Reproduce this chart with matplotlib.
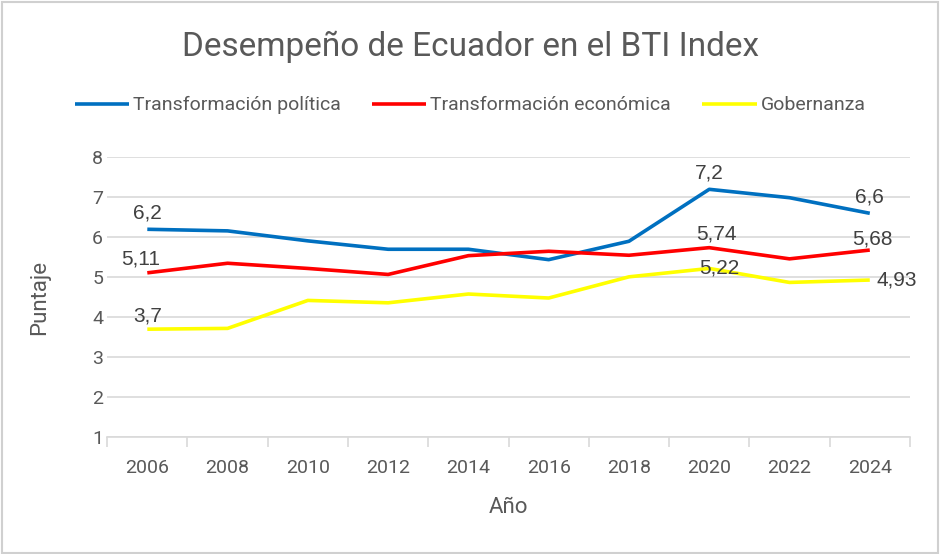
import matplotlib
matplotlib.use("Agg")
import matplotlib.pyplot as plt
from matplotlib.patches import Rectangle
from matplotlib import font_manager

years = ["2006", "2008", "2010", "2012", "2014", "2016", "2018", "2020", "2022", "2024"]
politica = [6.2, 6.16, 5.91, 5.7, 5.7, 5.44, 5.9, 7.2, 6.99, 6.6]
economica = [5.11, 5.35, 5.22, 5.07, 5.54, 5.65, 5.55, 5.74, 5.46, 5.68]
gobernanza = [3.7, 3.72, 4.42, 4.36, 4.58, 4.48, 5.01, 5.22, 4.87, 4.93]
series_names = ["Transformación política", "Transformación económica", "Gobernanza"]
label_text = {
    0: {0: "6,2", 7: "7,2", 9: "6,6"},
    1: {0: "5,11", 7: "5,74", 9: "5,68"},
    2: {0: "3,7", 7: "5,22", 9: "4,93"},
}

avail = {f.name for f in font_manager.fontManager.ttflist}
narrow = "Liberation Sans Narrow" if "Liberation Sans Narrow" in avail else "Roboto"
plt.rcParams['font.family'] = [narrow, 'DejaVu Sans']

TXT = "#595959"
colors = ["#0070C0", "#FF0000", "#FFFF00"]

fig = plt.figure(figsize=(9.4, 5.54), dpi=100)
fig.patches.append(Rectangle((0.002, 0.002), 0.996, 0.994, transform=fig.transFigure,
                             fill=False, edgecolor="#D0D0D0", linewidth=1.5))
ax = fig.add_axes([0.114, 0.211, 0.854, 0.505])

x = list(range(len(years)))
data = [politica, economica, gobernanza]
lines = []
for i, (vals, c, n) in enumerate(zip(data, colors, series_names)):
    l, = ax.plot(x, vals, color=c, linewidth=2.6, label=n, solid_capstyle="butt", zorder=3)
    lines.append(l)

offsets = {
    (0, 0): (0, 5, "center", "bottom"),
    (0, 7): (0, 5, "center", "bottom"),
    (0, 9): (0, 5, "center", "bottom"),
    (1, 0): (-5, 3, "center", "bottom"),
    (1, 7): (5, 3, "center", "bottom"),
    (1, 9): (2, 1, "center", "bottom"),
    (2, 0): (0, 3, "center", "bottom"),
    (2, 7): (7, 0, "center", "center"),
    (2, 9): (5, 0, "left", "center"),
}
for si, labs in label_text.items():
    for xi, t in labs.items():
        dx, dy, ha, va = offsets[(si, xi)]
        ax.annotate(t, (x[xi], data[si][xi]), xytext=(dx, dy), textcoords="offset points",
                    ha=ha, va=va, fontsize=15, color="#404040",
                    family=["Liberation Sans", "DejaVu Sans"], zorder=4)

ax.set_ylim(1, 8)
ax.set_xlim(-0.5, len(years) - 0.5)
ax.set_yticks(range(1, 9))
ax.set_xticks(x)
ax.set_xticklabels(years)
ax.set_xticks([i - 0.5 for i in range(len(years) + 1)], minor=True)
ax.grid(axis="y", color="#D9D9D9", linewidth=1.2, zorder=0)
for s in ["top", "right", "left"]:
    ax.spines[s].set_visible(False)
ax.spines["bottom"].set_color("#D9D9D9")
ax.spines["bottom"].set_linewidth(1.2)
ax.tick_params(axis="x", which="major", length=0, pad=16, labelsize=14, labelcolor=TXT)
ax.tick_params(axis="x", which="minor", length=7, color="#D9D9D9", width=1.2)
ax.tick_params(axis="y", length=0, pad=3, labelsize=14, labelcolor=TXT)

ax.set_xlabel("Año", fontsize=16, color=TXT, labelpad=14)
ax.set_ylabel("Puntaje", fontsize=16, color=TXT, labelpad=30)

fig.text(0.5, 0.915, "Desempeño de Ecuador en el BTI Index", ha="center", va="center",
         fontsize=24, color=TXT)

fig.legend(handles=lines, loc="center", bbox_to_anchor=(0.5, 0.81), ncol=3, frameon=False,
           fontsize=14, labelcolor=TXT, handlelength=2.8, handletextpad=0.2, columnspacing=1.6)

fig.savefig("out.png", dpi=100, facecolor="white")
